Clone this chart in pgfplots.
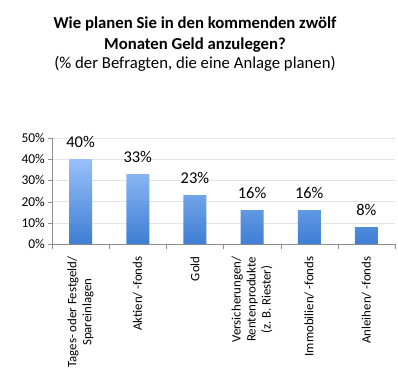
\documentclass[border=0pt]{standalone}
\usepackage{fontspec}
\setmainfont{Carlito}
\usepackage{pgfplots}
\pgfplotsset{compat=1.18}
\definecolor{bartop}{RGB}{152,192,250}
\definecolor{barbot}{RGB}{62,126,212}
\definecolor{axgray}{RGB}{140,140,140}
\definecolor{gridgray}{RGB}{228,228,228}
\begin{document}
\begin{tikzpicture}[x=1bp,y=1bp]
\path (0,0) rectangle (398,383);
\node[font=\fontsize{16.8}{19}\selectfont\bfseries,anchor=base] at (195,355) {Wie planen Sie in den kommenden zwölf};
\node[font=\fontsize{16.8}{19}\selectfont\bfseries,anchor=base] at (195,334) {Monaten Geld anzulegen?};
\node[font=\fontsize{16.8}{19}\selectfont,anchor=base] at (195,315) {(\% der Befragten, die eine Anlage planen)};
\begin{axis}[
  at={(52bp,139bp)}, anchor=south west,
  width=343bp, height=106bp, scale only axis,
  xmin=-0.5, xmax=5.5, ymin=0, ymax=50,
  ytick={0,10,20,30,40,50},
  yticklabel={\pgfmathprintnumber{\tick}\%},
  /pgf/number format/assume math mode=true,
  yticklabel style={font=\fontsize{13.5}{15}\selectfont, inner sep=1pt, xshift=-2bp},
  xtick={0,1,2,3,4,5},
  xticklabels={Tages- oder Festgeld/\\Spareinlagen, Aktien/ -fonds, Gold, Versicherungen/\\Rentenprodukte\\(z.\,B. Riester), Immobilien/ -fonds, Anleihen/ -fonds},
  xticklabel style={rotate=90, anchor=east, align=center, font=\fontsize{12.9}{15}\selectfont, xshift=-5bp},
  major x tick style={draw=none},
  minor xtick={-0.5,0.5,1.5,2.5,3.5,4.5,5.5},
  minor x tick style={draw=axgray},
  tick align=outside,
  major tick length=4bp, minor tick length=5bp,
  y tick style={draw=axgray},
  axis line style={draw=axgray},
  axis x line*=bottom, axis y line*=left,
  ymajorgrids, grid style={draw=gridgray},
  ybar, bar width=23bp,
  nodes near coords={\pgfmathprintnumber{\pgfplotspointmeta}\%},
  every node near coord/.append style={font=\fontsize{16.5}{18}\selectfont, anchor=base, yshift=12bp, /pgf/number format/assume math mode=true},
  clip=false,
]
\addplot[draw=none, shade, top color=bartop, bottom color=barbot] coordinates {(0,40) (1,33) (2,23) (3,16) (4,16) (5,8)};
\end{axis}
\end{tikzpicture}
\end{document}
